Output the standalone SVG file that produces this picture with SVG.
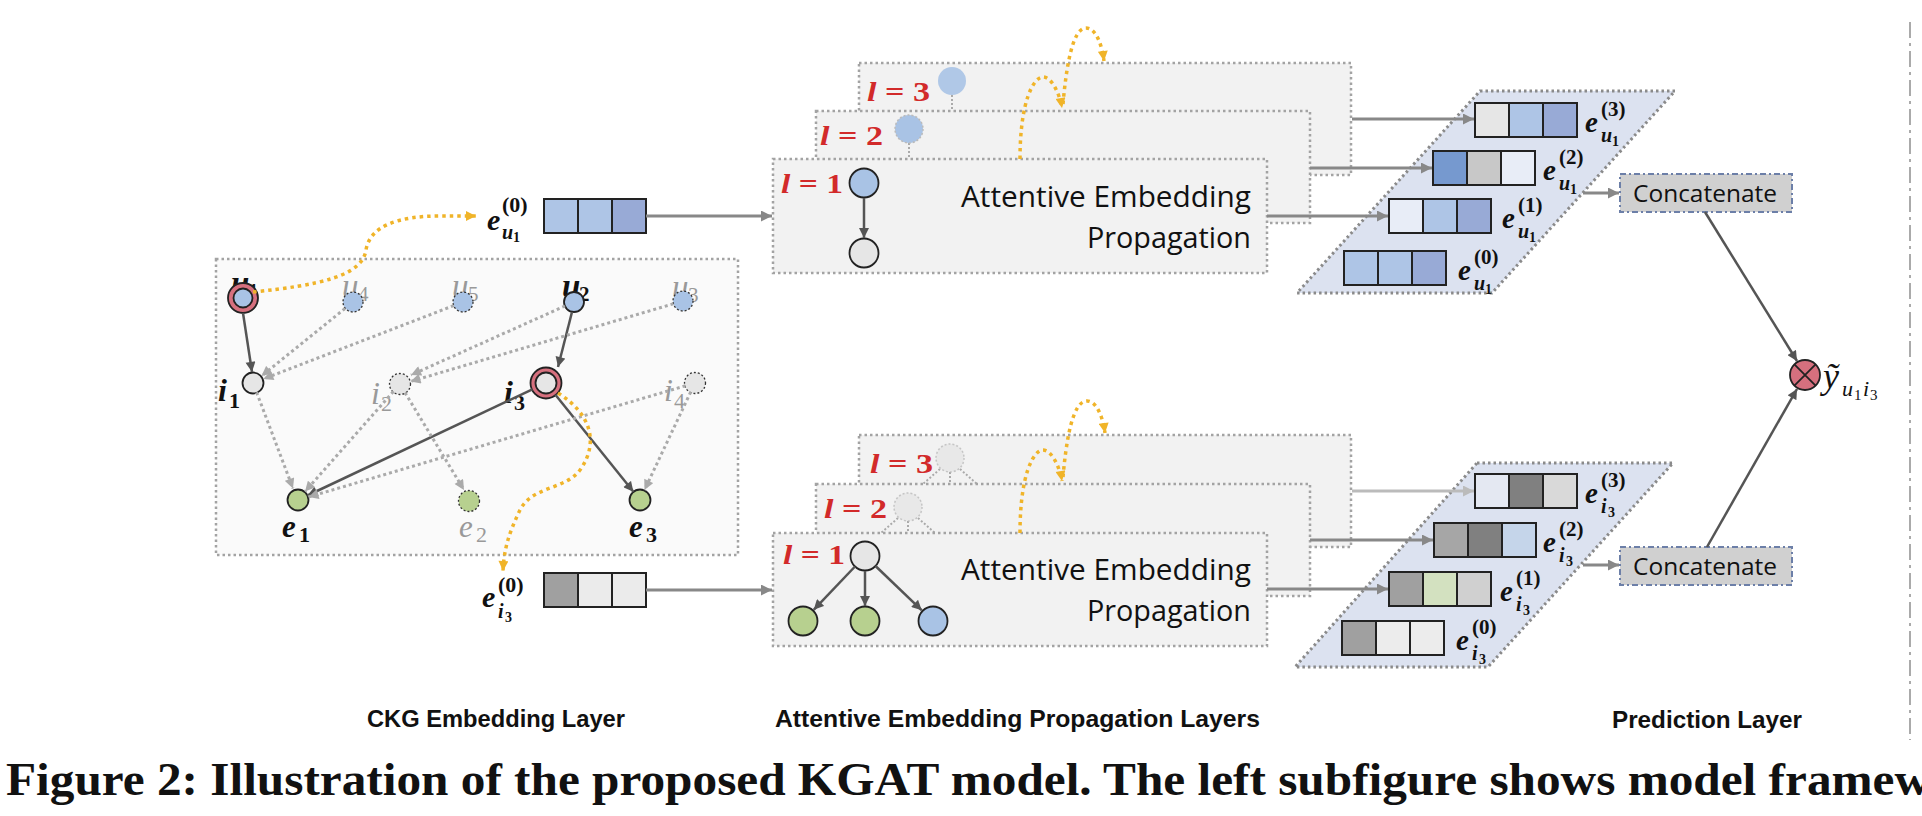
<svg xmlns="http://www.w3.org/2000/svg" width="1922" height="816" viewBox="0 0 1922 816">
<defs>
<style>
.box{fill:#fafafa;stroke:#a3a3a3;stroke-width:2.5;stroke-dasharray:2.5 3}
.layer{fill:#f2f2f2;stroke:#a3a3a3;stroke-width:2.5;stroke-dasharray:2.5 3}
.para{fill:#dce2f0;stroke:#8a8a8a;stroke-width:3;stroke-dasharray:2.5 3}
.cell{stroke:#222;stroke-width:2}
.nb{fill:#a9c3e5}.ng{fill:#b7d08f}.nw{fill:#e6e6e6}.nr{fill:#d6707e}
.solid{stroke:#222;stroke-width:1.8}
.dash{stroke:#333;stroke-width:1.3;stroke-dasharray:2 2}
.faint{stroke:#bbb;stroke-width:1.5;stroke-dasharray:2 2}
.dark{stroke:#555;stroke-width:2.5;fill:none;marker-end:url(#aDark)}
.dot{stroke:#aaa;stroke-width:3;fill:none;stroke-dasharray:3 3;marker-end:url(#aLight)}
.stub{stroke:#aaa;stroke-width:2;fill:none;stroke-dasharray:2 2}
.gray{stroke:#888;stroke-width:3;fill:none;marker-end:url(#aGray)}
.pale{stroke:#bbb;stroke-width:3;fill:none;marker-end:url(#aPale)}
.yel{stroke:#f0b429;stroke-width:3.5;fill:none;stroke-dasharray:3.5 4;marker-end:url(#aYel)}
.m{font-family:'Liberation Serif',serif;font-style:italic;font-weight:bold;fill:#111}
.mg{font-family:'Liberation Serif',serif;font-style:italic;fill:#999}
.up{font-style:normal}
.red{font-family:'Liberation Serif',serif;font-style:italic;font-weight:bold;fill:#d22a2a;font-size:27px}
.sans{font-family:'Open Sans','Liberation Sans',sans-serif;fill:#111}
.lab{font-family:'Liberation Sans',sans-serif;font-weight:bold;font-size:24px;fill:#111}
.cap{font-family:'Liberation Serif',serif;font-weight:bold;font-size:46px;fill:#111}
.concat{fill:#d0d0d0;stroke:#6c7fa8;stroke-width:2;stroke-dasharray:6 3 2 3}
</style>
<marker id="aDark" viewBox="0 0 10 10" refX="10" refY="5" markerWidth="11" markerHeight="10" markerUnits="userSpaceOnUse" orient="auto"><path d="M0,0L10,5L0,10z" fill="#555"/></marker>
<marker id="aGray" viewBox="0 0 10 10" refX="10" refY="5" markerWidth="13" markerHeight="11" markerUnits="userSpaceOnUse" orient="auto"><path d="M0,0L10,5L0,10z" fill="#888"/></marker>
<marker id="aPale" viewBox="0 0 10 10" refX="10" refY="5" markerWidth="13" markerHeight="11" markerUnits="userSpaceOnUse" orient="auto"><path d="M0,0L10,5L0,10z" fill="#bbb"/></marker>
<marker id="aLight" viewBox="0 0 10 10" refX="10" refY="5" markerWidth="11" markerHeight="10" markerUnits="userSpaceOnUse" orient="auto"><path d="M0,0L10,5L0,10z" fill="#aaa"/></marker>
<marker id="aYel" viewBox="0 0 10 10" refX="10" refY="5" markerWidth="11" markerHeight="10" markerUnits="userSpaceOnUse" orient="auto"><path d="M0,0L10,5L0,10z" fill="#f0b429"/></marker>
</defs>
<rect width="1922" height="816" fill="#fff"/>

<g id="ckg-box"><rect x="216" y="259" width="522" height="296" class="box"/></g>

<g id="node-u1">
<text class="m" font-size="33"><tspan x="231" y="294">u</tspan><tspan class="up" x="248" y="298" font-size="21">1</tspan></text>
<circle cx="243" cy="298" r="15" class="nr solid"/><circle cx="243" cy="298" r="9.5" class="nb solid"/>
</g>
<g id="node-u4"><text class="mg" font-size="33"><tspan x="342" y="297">u</tspan><tspan class="up" x="358" y="301" font-size="21">4</tspan></text><circle cx="353" cy="302" r="10" class="nb dash"/></g>
<g id="node-u5"><text class="mg" font-size="33"><tspan x="452" y="297">u</tspan><tspan class="up" x="468" y="301" font-size="21">5</tspan></text><circle cx="463" cy="302" r="10" class="nb dash"/></g>
<g id="node-u2"><text class="m" font-size="33"><tspan x="562" y="297">u</tspan><tspan class="up" x="579" y="301" font-size="21">2</tspan></text><circle cx="574" cy="302" r="10" class="nb solid"/></g>
<g id="node-u3"><text class="mg" font-size="33"><tspan x="672" y="298">u</tspan><tspan class="up" x="688" y="302" font-size="21">3</tspan></text><circle cx="683" cy="301" r="10" class="nb dash"/></g>
<g id="node-i1"><text class="m" font-size="32"><tspan x="218" y="401">i</tspan><tspan class="up" x="229" y="408" font-size="22">1</tspan></text><circle cx="253" cy="383" r="10.5" class="nw solid"/></g>
<g id="node-i2"><text class="mg" font-size="32"><tspan x="371" y="404">i</tspan><tspan class="up" x="381" y="411" font-size="22">2</tspan></text><circle cx="400" cy="384" r="10.5" class="nw dash"/></g>
<g id="node-i3"><text class="m" font-size="32"><tspan x="504" y="403">i</tspan><tspan class="up" x="514" y="410" font-size="22">3</tspan></text><circle cx="546" cy="383" r="15.5" class="nr solid"/><circle cx="546" cy="383" r="10.5" class="nw solid"/></g>
<g id="node-i4"><text class="mg" font-size="32"><tspan x="664" y="401">i</tspan><tspan class="up" x="674" y="408" font-size="22">4</tspan></text><circle cx="695" cy="383" r="10.5" class="nw dash"/></g>
<g id="node-e1"><text class="m" font-size="31"><tspan x="282" y="537">e</tspan><tspan class="up" x="299" y="542" font-size="22">1</tspan></text><circle cx="298" cy="500" r="10.5" class="ng solid"/></g>
<g id="node-e2"><text class="mg" font-size="31"><tspan x="459" y="537">e</tspan><tspan class="up" x="476" y="542" font-size="22">2</tspan></text><circle cx="469" cy="501" r="10.5" class="ng dash"/></g>
<g id="node-e3"><text class="m" font-size="31"><tspan x="629" y="537">e</tspan><tspan class="up" x="646" y="542" font-size="22">3</tspan></text><circle cx="640" cy="500" r="10.5" class="ng solid"/></g>

<g id="emb-u1-0">
<rect x="544" y="199" width="34" height="34" fill="#aec5e6" class="cell"/><rect x="578" y="199" width="34" height="34" fill="#aec5e6" class="cell"/><rect x="612" y="199" width="34" height="34" fill="#98aad6" class="cell"/>
<text class="m" font-size="30"><tspan x="487" y="230">e</tspan><tspan class="up" x="502" y="212" font-size="22">(0)</tspan><tspan x="502" y="239" font-size="20">u</tspan><tspan class="up" x="513" y="242" font-size="14">1</tspan></text>
</g>
<g id="emb-i3-0">
<rect x="544" y="573" width="34" height="34" fill="#a0a0a0" class="cell"/><rect x="578" y="573" width="34" height="34" fill="#ebebeb" class="cell"/><rect x="612" y="573" width="34" height="34" fill="#ebebeb" class="cell"/>
<text class="m" font-size="30"><tspan x="482" y="607">e</tspan><tspan class="up" x="498" y="592" font-size="22">(0)</tspan><tspan x="498" y="618" font-size="20">i</tspan><tspan class="up" x="505" y="622" font-size="14">3</tspan></text>
</g>

<g id="layer-u-3">
<rect x="859" y="63" width="492" height="112" class="layer"/>
<text class="red" x="867" y="101" textLength="63" lengthAdjust="spacingAndGlyphs">l<tspan class="up"> = 3</tspan></text>
<line x1="952" y1="95" x2="952" y2="111" class="stub"/>
<circle cx="952" cy="81" r="14" class="nb" opacity="0.9"/>
</g>
<g id="layer-u-2">
<rect x="816" y="111" width="494" height="112" class="layer"/>
<text class="red" x="820" y="145" textLength="63" lengthAdjust="spacingAndGlyphs">l<tspan class="up"> = 2</tspan></text>
<line x1="909" y1="143" x2="909" y2="159" class="stub"/>
<circle cx="909" cy="129" r="14" class="nb faint"/>
</g>
<g id="layer-u-1">
<rect x="773" y="159" width="494" height="114" class="layer"/>
<text class="red" x="781" y="193" textLength="62" lengthAdjust="spacingAndGlyphs">l<tspan class="up"> = 1</tspan></text>
<circle cx="864" cy="183" r="14.5" class="nb solid"/>
<circle cx="864" cy="253" r="14.5" class="nw solid"/>
<text class="sans" font-size="29" x="1251" y="207" text-anchor="end" textLength="290" lengthAdjust="spacingAndGlyphs">Attentive Embedding</text>
<text class="sans" font-size="29" x="1251" y="248" text-anchor="end" textLength="164" lengthAdjust="spacingAndGlyphs">Propagation</text>
</g>

<g id="layer-i-3">
<rect x="859" y="435" width="492" height="112" class="layer"/>
<text class="red" x="870" y="473" textLength="63" lengthAdjust="spacingAndGlyphs">l<tspan class="up"> = 3</tspan></text>
<path d="M940,469 L923,484 M950,472 L950,484 M960,469 L977,484" class="stub" stroke="#ccc"/>
<circle cx="950" cy="458" r="14" class="nw faint" opacity="0.8"/>
</g>
<g id="layer-i-2">
<rect x="816" y="484" width="494" height="112" class="layer"/>
<text class="red" x="824" y="518" textLength="63" lengthAdjust="spacingAndGlyphs">l<tspan class="up"> = 2</tspan></text>
<path d="M898,518 L881,533 M908,521 L908,533 M918,518 L935,533" class="stub" stroke="#ccc"/>
<circle cx="908" cy="507" r="14" class="nw faint" opacity="0.8"/>
</g>
<g id="layer-i-1">
<rect x="773" y="533" width="494" height="113" class="layer"/>
<text class="red" x="783" y="564" textLength="62" lengthAdjust="spacingAndGlyphs">l<tspan class="up"> = 1</tspan></text>
<circle cx="865" cy="556" r="14.5" class="nw solid"/>
<circle cx="803" cy="621" r="14.5" class="ng solid"/>
<circle cx="865" cy="621" r="14.5" class="ng solid"/>
<circle cx="933" cy="621" r="14.5" class="nb solid"/>
<text class="sans" font-size="29" x="1251" y="580" text-anchor="end" textLength="290" lengthAdjust="spacingAndGlyphs">Attentive Embedding</text>
<text class="sans" font-size="29" x="1251" y="621" text-anchor="end" textLength="164" lengthAdjust="spacingAndGlyphs">Propagation</text>
</g>

<g id="stack-u">
<polygon points="1480,91 1675,91 1492,293 1297,293" class="para"/>
<rect x="1475" y="103" width="34" height="34" fill="#e6e6e6" class="cell"/><rect x="1509" y="103" width="34" height="34" fill="#aec5e6" class="cell"/><rect x="1543" y="103" width="34" height="34" fill="#98aad6" class="cell"/>
<rect x="1433" y="151" width="34" height="34" fill="#7699cf" class="cell"/><rect x="1467" y="151" width="34" height="34" fill="#c8c8c8" class="cell"/><rect x="1501" y="151" width="34" height="34" fill="#e8edf7" class="cell"/>
<rect x="1389" y="199" width="34" height="34" fill="#e8edf7" class="cell"/><rect x="1423" y="199" width="34" height="34" fill="#aec5e6" class="cell"/><rect x="1457" y="199" width="34" height="34" fill="#98aad6" class="cell"/>
<rect x="1344" y="251" width="34" height="34" fill="#aec5e6" class="cell"/><rect x="1378" y="251" width="34" height="34" fill="#aec5e6" class="cell"/><rect x="1412" y="251" width="34" height="34" fill="#98aad6" class="cell"/>
<text class="m" font-size="29"><tspan x="1585" y="132">e</tspan><tspan class="up" x="1601" y="116" font-size="21">(3)</tspan><tspan x="1601" y="142" font-size="20">u</tspan><tspan class="up" x="1612" y="146" font-size="14">1</tspan></text>
<text class="m" font-size="29"><tspan x="1543" y="180">e</tspan><tspan class="up" x="1559" y="164" font-size="21">(2)</tspan><tspan x="1559" y="190" font-size="20">u</tspan><tspan class="up" x="1570" y="194" font-size="14">1</tspan></text>
<text class="m" font-size="29"><tspan x="1502" y="228">e</tspan><tspan class="up" x="1518" y="212" font-size="21">(1)</tspan><tspan x="1518" y="238" font-size="20">u</tspan><tspan class="up" x="1529" y="242" font-size="14">1</tspan></text>
<text class="m" font-size="29"><tspan x="1458" y="280">e</tspan><tspan class="up" x="1474" y="264" font-size="21">(0)</tspan><tspan x="1474" y="290" font-size="20">u</tspan><tspan class="up" x="1485" y="294" font-size="14">1</tspan></text>
</g>
<g id="stack-i">
<polygon points="1477,463 1673,463 1488,667 1295,667" class="para"/>
<rect x="1475" y="474" width="34" height="34" fill="#e4e8f2" class="cell"/><rect x="1509" y="474" width="34" height="34" fill="#808080" class="cell"/><rect x="1543" y="474" width="34" height="34" fill="#d9d9d9" class="cell"/>
<rect x="1434" y="523" width="34" height="34" fill="#a6a6a6" class="cell"/><rect x="1468" y="523" width="34" height="34" fill="#808080" class="cell"/><rect x="1502" y="523" width="34" height="34" fill="#c5d5ea" class="cell"/>
<rect x="1389" y="572" width="34" height="34" fill="#a0a0a0" class="cell"/><rect x="1423" y="572" width="34" height="34" fill="#d3e1c0" class="cell"/><rect x="1457" y="572" width="34" height="34" fill="#d0d0d0" class="cell"/>
<rect x="1342" y="621" width="34" height="34" fill="#a0a0a0" class="cell"/><rect x="1376" y="621" width="34" height="34" fill="#ececec" class="cell"/><rect x="1410" y="621" width="34" height="34" fill="#ececec" class="cell"/>
<text class="m" font-size="29"><tspan x="1585" y="503">e</tspan><tspan class="up" x="1601" y="487" font-size="21">(3)</tspan><tspan x="1601" y="513" font-size="20">i</tspan><tspan class="up" x="1608" y="517" font-size="14">3</tspan></text>
<text class="m" font-size="29"><tspan x="1543" y="552">e</tspan><tspan class="up" x="1559" y="536" font-size="21">(2)</tspan><tspan x="1559" y="562" font-size="20">i</tspan><tspan class="up" x="1566" y="566" font-size="14">3</tspan></text>
<text class="m" font-size="29"><tspan x="1500" y="601">e</tspan><tspan class="up" x="1516" y="585" font-size="21">(1)</tspan><tspan x="1516" y="611" font-size="20">i</tspan><tspan class="up" x="1523" y="615" font-size="14">3</tspan></text>
<text class="m" font-size="29"><tspan x="1456" y="650">e</tspan><tspan class="up" x="1472" y="634" font-size="21">(0)</tspan><tspan x="1472" y="660" font-size="20">i</tspan><tspan class="up" x="1479" y="664" font-size="14">3</tspan></text>
</g>

<g id="concat-u"><rect x="1620" y="174" width="172" height="38" class="concat"/><text class="sans" font-size="24" x="1705" y="202" text-anchor="middle" textLength="144" lengthAdjust="spacingAndGlyphs">Concatenate</text></g>
<g id="concat-i"><rect x="1620" y="547" width="172" height="38" class="concat"/><text class="sans" font-size="24" x="1705" y="575" text-anchor="middle" textLength="144" lengthAdjust="spacingAndGlyphs">Concatenate</text></g>
<g id="predict">
<circle cx="1805" cy="375" r="15" class="nr solid"/>
<path d="M1794.4,364.4L1815.6,385.6M1815.6,364.4L1794.4,385.6" stroke="#222" stroke-width="1.8"/>
<text font-family="'Liberation Serif',serif" font-style="italic" fill="#111" font-size="36"><tspan x="1823" y="388">ỹ</tspan><tspan x="1842" y="396" font-size="22">u</tspan><tspan class="up" x="1854" y="400" font-size="15">1</tspan><tspan x="1863" y="396" font-size="22">i</tspan><tspan class="up" x="1870" y="400" font-size="15">3</tspan></text>
</g>

<g id="connectors">
<line x1="243" y1="313" x2="252" y2="372" class="dark"/>
<line x1="572" y1="312" x2="558" y2="367" class="dark"/>
<line x1="532.4" y1="389.4" x2="307.5" y2="495.5" class="dark"/>
<line x1="555.4" y1="394.7" x2="633.4" y2="491.8" class="dark"/>
<line x1="345" y1="308.5" x2="261.5" y2="376" class="dot"/>
<line x1="453.7" y1="305.6" x2="263.3" y2="379" class="dot"/>
<line x1="565" y1="306" x2="411" y2="375" class="dot"/>
<line x1="673.4" y1="303.8" x2="410.5" y2="381.5" class="dot"/>
<line x1="256.6" y1="392.3" x2="293" y2="488.5" class="dot"/>
<line x1="393.4" y1="391.5" x2="305" y2="491.5" class="dot"/>
<line x1="405" y1="392.6" x2="464" y2="490" class="dot"/>
<line x1="685.4" y1="385.8" x2="308.5" y2="497" class="dot"/>
<line x1="690.7" y1="392" x2="644.5" y2="490" class="dot"/>
<path d="M253,292 C320,285 362,276 366,250 C370,226 398,216 440,216 L476,216" class="yel"/>
<path d="M558,393 C590,413 600,442 580,470 C565,490 532,486 520,510 C508,535 504,550 503,571" class="yel"/>
<path d="M1020,159 C1020,100 1034,77 1043,77 C1052,77 1060,95 1062,108" class="yel"/>
<path d="M1063,104 C1066,70 1072,28 1086,28 C1096,28 1102,45 1104,61" class="yel"/>
<path d="M1020,533 C1020,473 1034,450 1043,450 C1052,450 1060,468 1062,481" class="yel"/>
<path d="M1063,477 C1066,443 1072,401 1087,401 C1097,401 1103,418 1105,433" class="yel"/>
<line x1="864" y1="198" x2="864" y2="238" class="dark"/>
<line x1="855" y1="566.5" x2="813.7" y2="609.8" class="dark"/>
<line x1="865" y1="571" x2="865" y2="606" class="dark"/>
<line x1="875.5" y1="566" x2="921.8" y2="610.3" class="dark"/>
<line x1="646" y1="216" x2="772" y2="216" class="gray"/>
<line x1="646" y1="590" x2="772" y2="590" class="gray"/>
<line x1="1352" y1="119" x2="1474" y2="119" class="gray"/>
<line x1="1310" y1="168" x2="1432" y2="168" class="gray"/>
<line x1="1267" y1="216" x2="1388" y2="216" class="gray"/>
<line x1="1352" y1="491" x2="1474" y2="491" class="pale"/>
<line x1="1310" y1="540" x2="1433" y2="540" class="gray"/>
<line x1="1267" y1="589" x2="1388" y2="589" class="gray"/>
<line x1="1583" y1="193" x2="1619" y2="193" class="gray"/>
<line x1="1583" y1="565" x2="1619" y2="565" class="gray"/>
<line x1="1705" y1="212" x2="1797" y2="361" class="dark" stroke="#666"/>
<line x1="1707" y1="547" x2="1797" y2="389" class="dark" stroke="#666"/>
</g>

<line x1="1910" y1="22" x2="1910" y2="740" stroke="#aaa" stroke-width="2" stroke-dasharray="16 5 3 5"/>

<text class="lab" x="367" y="727" textLength="258" lengthAdjust="spacingAndGlyphs">CKG Embedding Layer</text>
<text class="lab" x="775" y="727" textLength="485" lengthAdjust="spacingAndGlyphs">Attentive Embedding Propagation Layers</text>
<text class="lab" x="1612" y="728" textLength="190" lengthAdjust="spacingAndGlyphs">Prediction Layer</text>
<text class="cap" x="6" y="795" textLength="1924" lengthAdjust="spacingAndGlyphs">Figure 2: Illustration of the proposed KGAT model. The left subfigure shows model framew</text>
</svg>
